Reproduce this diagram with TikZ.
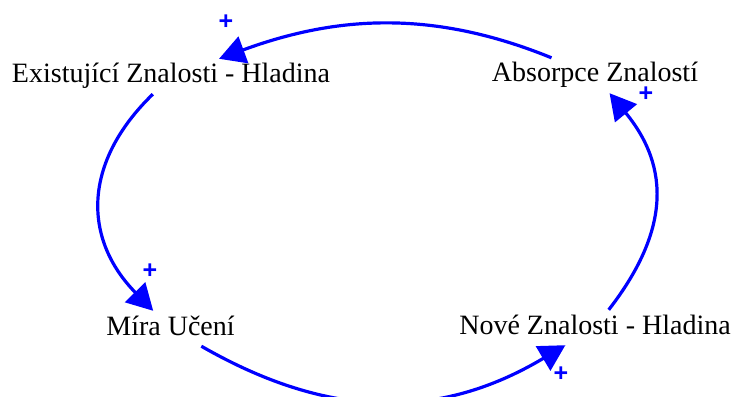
\documentclass[tikz,border=0pt]{standalone}
\usepackage{fontspec}
\setmainfont{Liberation Serif}
\newfontfamily\plusfont{Liberation Sans}
\usetikzlibrary{arrows.meta}

\begin{document}
\begin{tikzpicture}[x=1pt,y=1pt,
  var/.style={anchor=base, inner sep=5pt, text height=19pt, text depth=6pt,
    font=\fontsize{28}{30}\selectfont},
  link/.style={blue, line width=3.2pt, -{Triangle[length=26pt,width=28pt]}},
  sign/.style={blue, inner sep=0pt, font=\plusfont\bfseries\fontsize{25}{25}\selectfont}]

% ----- Frame -----
\useasboundingbox (0,0) rectangle (735,396);

% ----- Variables -----
\node[var] (ex)  at (171,313) {Existující Znalosti - Hladina};
\node[var] (abs) at (595,314) {Absorpce Znalostí};
\node[var] (mira) at (170.5,61) {Míra Učení};
\node[var] (nove) at (595,62) {Nové Znalosti - Hladina};

% ----- Causal links -----
\draw[link] (abs) .. controls (434,386) and (338,381) .. (ex);
\draw[link] (ex) .. controls (82,233) and (83,157) .. (mira);
\draw[link] (mira) .. controls (330,-24) and (440,-24) .. (nove);
\draw[link] (nove) .. controls (669,164) and (671,228) .. (abs);

% ----- Polarities -----
\node[sign] (p1) at (226,374) {+};
\node[sign] (p2) at (150,125) {+};
\node[sign] (p3) at (561,22) {+};
\node[sign] (p4) at (646,302) {+};

\end{tikzpicture}
\end{document}
